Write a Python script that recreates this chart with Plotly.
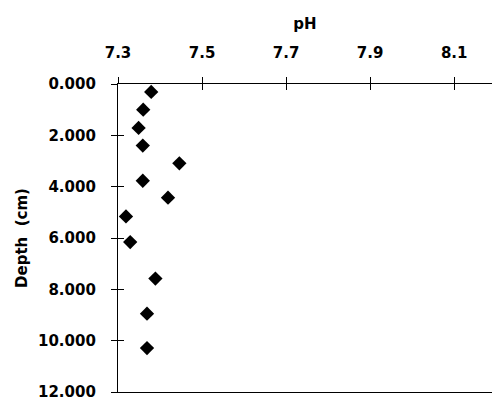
import plotly.graph_objects as go

ph = [7.379, 7.360, 7.349, 7.359, 7.446, 7.359, 7.419, 7.319, 7.329, 7.389, 7.369, 7.369]
depth = [0.31, 1.00, 1.71, 2.40, 3.09, 3.77, 4.43, 5.16, 6.16, 7.58, 8.95, 10.29]
x_ticks = [7.3, 7.5, 7.7, 7.9, 8.1]
y_ticks = [0, 2, 4, 6, 8, 10, 12]
y_tick_labels = ["0.000", "2.000", "4.000", "6.000", "8.000", "10.000", "12.000"]

x_range = [7.3, 8.19]
y_range = [12, 0]

fig = go.Figure()
fig.add_trace(go.Scatter(
    x=ph, y=depth, mode="markers",
    marker=dict(symbol="diamond", size=11, color="black"),
    showlegend=False,
))
# invisible copy to carry the inner half of the crossing ticks
fig.add_trace(go.Scatter(
    x=ph, y=depth, mode="markers", xaxis="x2", yaxis="y2",
    marker=dict(opacity=0), hoverinfo="skip", showlegend=False,
))

font = dict(family="DejaVu Sans, sans-serif", color="black", weight="bold")

fig.update_layout(
    width=492, height=405,
    margin=dict(l=118, r=0, t=84, b=13),
    paper_bgcolor="white", plot_bgcolor="white",
    font=font,
    xaxis=dict(
        side="top", range=x_range, tickvals=x_ticks, ticktext=[f"{v:.1f}" for v in x_ticks],
        showgrid=False, zeroline=False, showline=True, linecolor="black", linewidth=1.3,
        mirror=True, ticks="outside", ticklen=6, tickcolor="black", tickwidth=1,
        tickfont=dict(size=15, **font), ticklabelstandoff=13, automargin=False,
        title=dict(text="pH", font=dict(size=15, **font), standoff=10),
    ),
    yaxis=dict(
        range=y_range, tickvals=y_ticks, ticktext=y_tick_labels,
        showgrid=False, zeroline=False, showline=True, linecolor="black", linewidth=1.3,
        ticks="outside", ticklen=6, tickcolor="black", tickwidth=1,
        tickfont=dict(size=15, **font), ticklabelstandoff=12, automargin=False,
        title=dict(text="Depth  (cm)", font=dict(size=15, **font), standoff=6),
    ),
    xaxis2=dict(
        overlaying="x", side="top", range=x_range, tickvals=x_ticks, showticklabels=False,
        showgrid=False, zeroline=False, showline=False, ticks="inside", ticklen=6,
        tickcolor="black", tickwidth=1, automargin=False,
    ),
    yaxis2=dict(
        overlaying="y", side="left", range=y_range, tickvals=y_ticks, showticklabels=False,
        showgrid=False, zeroline=False, showline=False, ticks="inside", ticklen=6,
        tickcolor="black", tickwidth=1, automargin=False,
    ),
)

fig.write_html(
    "out.html",
    config={"displayModeBar": False},
    post_script="document.body.style.margin='0';",
)
